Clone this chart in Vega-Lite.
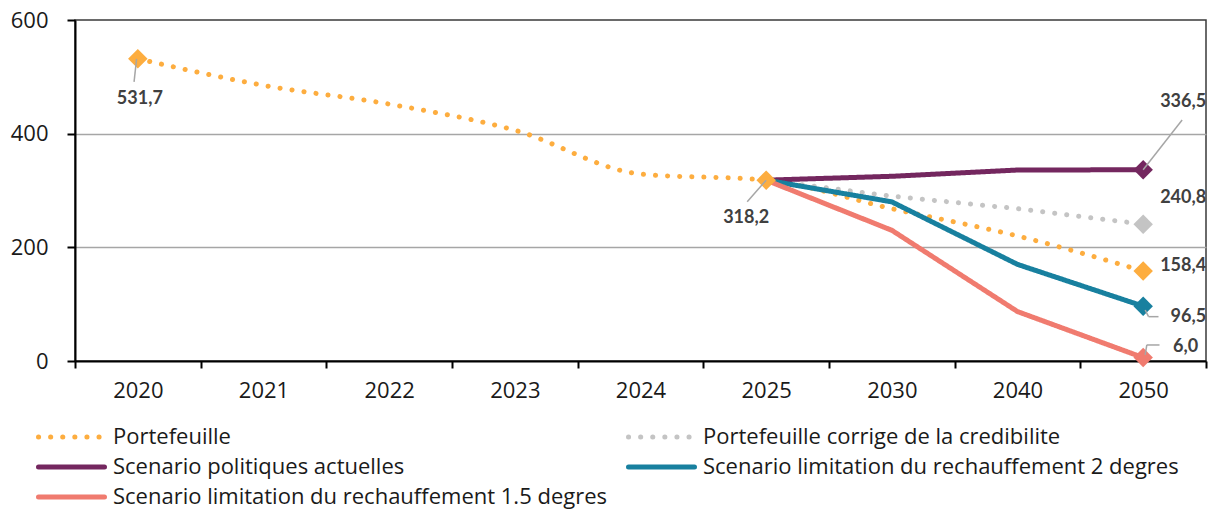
{
  "$schema": "https://vega.github.io/schema/vega-lite/v6.json",
  "width": 1131,
  "height": 341,
  "autosize": {"type": "none"},
  "padding": {"left": 75, "top": 20, "right": 10, "bottom": 152},
  "config": {
    "font": "Open Sans",
    "view": {"stroke": "#3a3a3a", "strokeWidth": 1.5},
    "locale": {"number": {"decimal": ",", "thousands": " ", "grouping": [3], "currency": ["", " €"]}},
    "axis": {"domainColor": "#000000", "domainWidth": 2, "tickColor": "#000000", "tickWidth": 2, "labelFont": "Open Sans", "labelFontSize": 22, "labelColor": "#1a1a1a", "title": null},
    "legend": {"orient": "none", "legendX": -39, "legendY": 406, "columns": 2, "symbolType": "stroke", "symbolSize": 4356, "symbolStrokeWidth": 5, "clipHeight": 22, "labelFont": "Open Sans", "labelFontSize": 22, "labelColor": "#1a1a1a", "labelOffset": 6, "columnPadding": 18, "rowPadding": 8, "labelLimit": 1000, "padding": 0, "title": null}
  },
  "data": {"values": [
    {"year": "2020", "series": "Portefeuille", "value": 531.7},
    {"year": "2021", "series": "Portefeuille", "value": 485},
    {"year": "2022", "series": "Portefeuille", "value": 452},
    {"year": "2023", "series": "Portefeuille", "value": 406},
    {"year": "2024", "series": "Portefeuille", "value": 329},
    {"year": "2025", "series": "Portefeuille", "value": 318.2},
    {"year": "2030", "series": "Portefeuille", "value": 268},
    {"year": "2040", "series": "Portefeuille", "value": 220},
    {"year": "2050", "series": "Portefeuille", "value": 158.4},
    {"year": "2025", "series": "Portefeuille corrige de la credibilite", "value": 318.2},
    {"year": "2030", "series": "Portefeuille corrige de la credibilite", "value": 290},
    {"year": "2040", "series": "Portefeuille corrige de la credibilite", "value": 268},
    {"year": "2050", "series": "Portefeuille corrige de la credibilite", "value": 240.8},
    {"year": "2025", "series": "Scenario politiques actuelles", "value": 318.2},
    {"year": "2030", "series": "Scenario politiques actuelles", "value": 325},
    {"year": "2040", "series": "Scenario politiques actuelles", "value": 336},
    {"year": "2050", "series": "Scenario politiques actuelles", "value": 336.5},
    {"year": "2025", "series": "Scenario limitation du rechauffement 2 degres", "value": 318.2},
    {"year": "2030", "series": "Scenario limitation du rechauffement 2 degres", "value": 280},
    {"year": "2040", "series": "Scenario limitation du rechauffement 2 degres", "value": 170},
    {"year": "2050", "series": "Scenario limitation du rechauffement 2 degres", "value": 96.5},
    {"year": "2025", "series": "Scenario limitation du rechauffement 1.5 degres", "value": 318.2},
    {"year": "2030", "series": "Scenario limitation du rechauffement 1.5 degres", "value": 230},
    {"year": "2040", "series": "Scenario limitation du rechauffement 1.5 degres", "value": 87},
    {"year": "2050", "series": "Scenario limitation du rechauffement 1.5 degres", "value": 6.0}
  ]},
  "encoding": {
    "x": {"field": "year", "type": "ordinal",
      "scale": {"type": "band", "domain": ["2020", "2021", "2022", "2023", "2024", "2025", "2030", "2040", "2050"], "paddingInner": 0, "paddingOuter": 0},
      "axis": {"tickBand": "extent", "tickSize": 7, "labelAngle": 0, "labelPadding": 12, "grid": false, "title": null}},
    "y": {"field": "value", "type": "quantitative",
      "scale": {"domain": [0, 600], "nice": false},
      "axis": {"values": [0, 200, 400, 600], "tickSize": 8, "labelPadding": 19, "grid": true, "gridColor": "#a6a6a6", "gridWidth": 1.5,
        "gridOpacity": {"condition": {"test": "datum.value === 0 || datum.value === 600", "value": 0}, "value": 1}, "title": null}}
  },
  "layer": [
    {
      "transform": [{"filter": "datum.series == 'Portefeuille'"}],
      "mark": {"type": "line", "strokeWidth": 5, "strokeCap": "round", "interpolate": "monotone"},
      "encoding": {
        "color": {"field": "series", "type": "nominal",
          "scale": {"domain": ["Portefeuille", "Scenario politiques actuelles", "Scenario limitation du rechauffement 1.5 degres", "Portefeuille corrige de la credibilite", "Scenario limitation du rechauffement 2 degres"],
            "range": ["#fdad3f", "#74275f", "#f07b6f", "#c4c4c4", "#18809f"]},
          "legend": {"encode": {"symbols": {"update": {"strokeCap": {"value": "round"}}}}}},
        "strokeDash": {"field": "series", "type": "nominal",
          "scale": {"domain": ["Portefeuille", "Scenario politiques actuelles", "Scenario limitation du rechauffement 1.5 degres", "Portefeuille corrige de la credibilite", "Scenario limitation du rechauffement 2 degres"],
            "range": [[0.1, 12], [1, 0], [1, 0], [0.1, 12], [1, 0]]}}
      }
    },
    {
      "transform": [{"filter": "datum.series != 'Portefeuille'"}],
      "mark": {"type": "line", "strokeWidth": 5, "strokeCap": "round"},
      "encoding": {
        "color": {"field": "series", "type": "nominal"},
        "strokeDash": {"field": "series", "type": "nominal"}
      }
    },
    {
      "transform": [{"filter": "((datum.year == '2020' || datum.year == '2025') && datum.series == 'Portefeuille') || datum.year == '2050'"}],
      "mark": {"type": "point", "shape": "diamond", "filled": true, "size": 380, "opacity": 1},
      "encoding": {"color": {"field": "series", "type": "nominal"}}
    },
    {
      "transform": [{"filter": "datum.series == 'Portefeuille' && datum.year == '2020'"}],
      "mark": {"type": "rule", "color": "#a6a6a6", "strokeWidth": 1.5},
      "encoding": {"x": {"field": "year", "type": "ordinal", "bandPosition": 0.49}, "x2": {"field": "year", "bandPosition": 0.47}, "y": {"field": "value", "type": "quantitative"}, "y2": {"datum": 491}}
    },
    {
      "transform": [{"filter": "datum.series == 'Portefeuille' && datum.year == '2025'"}],
      "mark": {"type": "rule", "color": "#a6a6a6", "strokeWidth": 1.5},
      "encoding": {"x": {"field": "year", "type": "ordinal", "bandPosition": 0.5}, "x2": {"field": "year", "bandPosition": 0.349}, "y": {"field": "value", "type": "quantitative"}, "y2": {"datum": 280}}
    },
    {
      "transform": [{"filter": "datum.series == 'Scenario politiques actuelles' && datum.year == '2050'"}],
      "mark": {"type": "rule", "color": "#a6a6a6", "strokeWidth": 1.5},
      "encoding": {"x": {"field": "year", "type": "ordinal", "bandPosition": 0.5}, "x2": {"field": "year", "bandPosition": 0.81}, "y": {"field": "value", "type": "quantitative"}, "y2": {"datum": 424}}
    },
    {
      "transform": [{"filter": "datum.series == 'Scenario limitation du rechauffement 2 degres' && datum.year == '2050'"}],
      "mark": {"type": "rule", "color": "#a6a6a6", "strokeWidth": 1.5},
      "encoding": {"x": {"field": "year", "type": "ordinal", "bandPosition": 0.516}, "x2": {"field": "year", "bandPosition": 0.543}, "y": {"datum": 89.7, "type": "quantitative"}, "y2": {"datum": 78}}
    },
    {
      "transform": [{"filter": "datum.series == 'Scenario limitation du rechauffement 2 degres' && datum.year == '2050'"}],
      "mark": {"type": "rule", "color": "#a6a6a6", "strokeWidth": 1.5},
      "encoding": {"x": {"field": "year", "type": "ordinal", "bandPosition": 0.543}, "x2": {"field": "year", "bandPosition": 0.622}, "y": {"datum": 78, "type": "quantitative"}, "y2": {"datum": 78}}
    },
    {
      "transform": [{"filter": "datum.series == 'Scenario limitation du rechauffement 1.5 degres' && datum.year == '2050'"}],
      "mark": {"type": "rule", "color": "#a6a6a6", "strokeWidth": 1.5},
      "encoding": {"x": {"field": "year", "type": "ordinal", "bandPosition": 0.516}, "x2": {"field": "year", "bandPosition": 0.529}, "y": {"datum": 10.6, "type": "quantitative"}, "y2": {"datum": 28.2}}
    },
    {
      "transform": [{"filter": "datum.series == 'Scenario limitation du rechauffement 1.5 degres' && datum.year == '2050'"}],
      "mark": {"type": "rule", "color": "#a6a6a6", "strokeWidth": 1.5},
      "encoding": {"x": {"field": "year", "type": "ordinal", "bandPosition": 0.529}, "x2": {"field": "year", "bandPosition": 0.63}, "y": {"datum": 28.2, "type": "quantitative"}, "y2": {"datum": 28.2}}
    },
    {
      "transform": [{"filter": "datum.series == 'Portefeuille' && datum.year == '2020'"}],
      "mark": {"type": "text", "dx": 2, "dy": 40, "align": "center", "baseline": "middle", "fontWeight": "bold", "fontSize": 18, "font": "Lato", "fill": "#404040"},
      "encoding": {"text": {"field": "value", "type": "quantitative", "format": ".1f"}}
    },
    {
      "transform": [{"filter": "datum.series == 'Portefeuille' && datum.year == '2025'"}],
      "mark": {"type": "text", "dx": -20, "dy": 38, "align": "center", "baseline": "middle", "fontWeight": "bold", "fontSize": 18, "font": "Lato", "fill": "#404040"},
      "encoding": {"text": {"field": "value", "type": "quantitative", "format": ".1f"}}
    },
    {
      "transform": [{"filter": "datum.series == 'Scenario politiques actuelles' && datum.year == '2050'"}],
      "mark": {"type": "text", "dx": 63, "dy": -68, "align": "right", "baseline": "middle", "fontWeight": "bold", "fontSize": 18, "font": "Lato", "fill": "#404040"},
      "encoding": {"text": {"field": "value", "type": "quantitative", "format": ".1f"}}
    },
    {
      "transform": [{"filter": "datum.series == 'Portefeuille corrige de la credibilite' && datum.year == '2050'"}],
      "mark": {"type": "text", "dx": 63, "dy": -26, "align": "right", "baseline": "middle", "fontWeight": "bold", "fontSize": 18, "font": "Lato", "fill": "#404040"},
      "encoding": {"text": {"field": "value", "type": "quantitative", "format": ".1f"}}
    },
    {
      "transform": [{"filter": "datum.series == 'Portefeuille' && datum.year == '2050'"}],
      "mark": {"type": "text", "dx": 63, "dy": -5, "align": "right", "baseline": "middle", "fontWeight": "bold", "fontSize": 18, "font": "Lato", "fill": "#404040"},
      "encoding": {"text": {"field": "value", "type": "quantitative", "format": ".1f"}}
    },
    {
      "transform": [{"filter": "datum.series == 'Scenario limitation du rechauffement 2 degres' && datum.year == '2050'"}],
      "mark": {"type": "text", "dx": 63, "dy": 10.5, "align": "right", "baseline": "middle", "fontWeight": "bold", "fontSize": 18, "font": "Lato", "fill": "#404040"},
      "encoding": {"text": {"field": "value", "type": "quantitative", "format": ".1f"}}
    },
    {
      "transform": [{"filter": "datum.series == 'Scenario limitation du rechauffement 1.5 degres' && datum.year == '2050'"}],
      "mark": {"type": "text", "dx": 55, "dy": -11, "align": "right", "baseline": "middle", "fontWeight": "bold", "fontSize": 18, "font": "Lato", "fill": "#404040"},
      "encoding": {"text": {"field": "value", "type": "quantitative", "format": ".1f"}}
    }
  ]
}
